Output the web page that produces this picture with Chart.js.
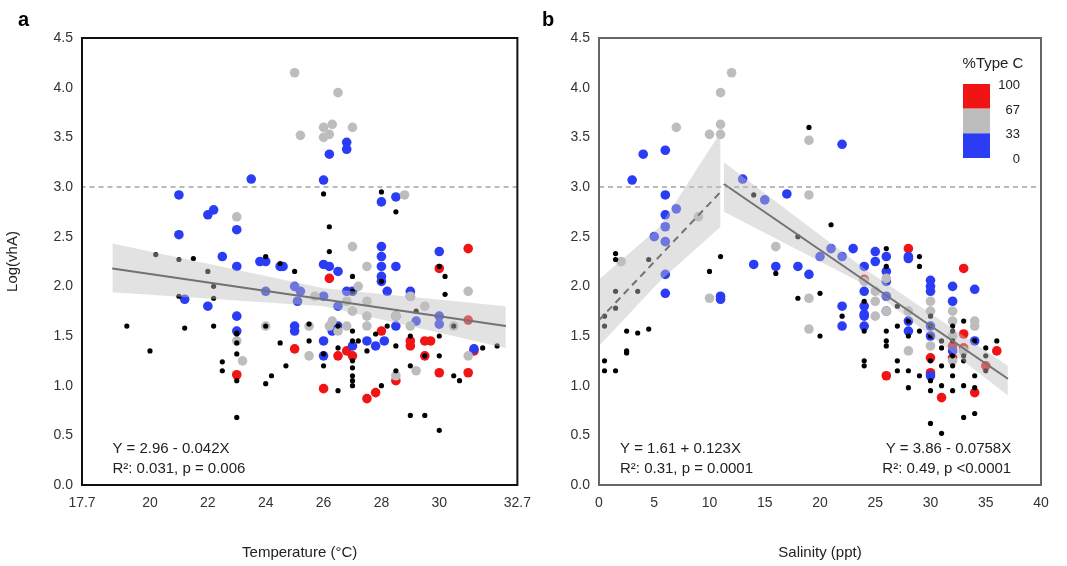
<!DOCTYPE html>
<html>
<head>
<meta charset="utf-8">
<script src="https://cdn.jsdelivr.net/npm/chart.js@4/dist/chart.umd.min.js"></script>
<style>
  body { margin: 0; background: #fff; font-family: "Liberation Sans", Arial, sans-serif; }
  #wrap { position: relative; width: 1067px; height: 566px; }
  canvas { position: absolute; top: 0; }
  .tag { position: absolute; top: 8px; font: bold 20px "Liberation Sans", Arial, sans-serif; }
</style>
</head>
<body>
<div id="wrap">
  <canvas id="chartA" style="left:0" width="535" height="566"></canvas>
  <canvas id="chartB" style="left:535px" width="532" height="566"></canvas>
  <div class="tag" style="left:18px">a</div>
  <div class="tag" style="left:542px">b</div>
</div>
<script>
// Panel a: Temperature vs Log(vhA)
const tempBlue = [[21,2.92],[21,2.52],[21.2,1.87],[22,2.72],[22.2,2.77],[22.5,2.3],[22,1.8],[23,2.57],[23,2.2],[23,1.55],[23,1.7],[23.5,3.08],[23.8,2.25],[24,2.25],[24,1.95],[24.5,2.2],[24.6,2.2],[25,2.0],[25,1.6],[25.1,1.85],[25.2,1.95],[26,2.22],[26,1.9],[26,3.07],[26.2,3.33],[26.8,3.45],[26.8,3.38],[26.5,2.15],[26.2,2.2],[26.5,1.8],[26.8,1.95],[27,1.95],[27.5,1.45],[27.8,1.4],[28,2.4],[28,2.3],[28,2.2],[28,2.1],[28,2.05],[28,2.85],[28.5,2.9],[28.5,2.2],[28.2,1.95],[28.5,1.7],[28.5,1.6],[29,1.95],[29,1.9],[29.2,1.65],[30,2.35],[30,1.7],[30,1.62],[31.2,1.37],[25,1.55],[26,1.45],[26,1.3],[26.3,1.55],[26.5,1.6],[27,1.4],[28.1,1.45]];
const tempGrey = [[25,4.15],[25.2,3.52],[26,3.6],[26.3,3.63],[26.2,3.53],[26,3.5],[26.5,3.95],[27,3.6],[23,2.7],[26.8,1.85],[27,2.4],[27.5,2.2],[27.2,2.0],[27.5,1.85],[27.5,1.7],[25.5,1.6],[25.7,1.9],[26.3,1.65],[26.5,1.55],[26.8,1.6],[27.5,1.6],[28.5,1.7],[29,1.6],[30.5,1.6],[31,1.95],[31,1.3],[23,1.45],[23.2,1.25],[24,1.6],[25.5,1.3],[26.2,1.6],[28.5,1.1],[29.2,1.15],[29.5,1.8],[27,1.75],[29,1.9],[28.8,2.92]];
const tempRed = [[23,1.11],[25,1.37],[26,0.97],[26.2,2.08],[26.5,1.3],[26.8,1.35],[27,1.3],[27.5,0.87],[27.8,0.93],[28,1.55],[29,1.45],[29,1.4],[29.5,1.3],[29.7,1.45],[30,1.13],[30,2.18],[31,2.38],[31,1.66],[31,1.13],[31.2,1.35],[28.5,1.05],[29.5,1.45]];
const tempBlack = [[19.2,1.6],[20,1.35],[20.2,2.32],[21,2.27],[21,1.9],[21.2,1.58],[21.5,2.28],[22,2.15],[22.2,2.0],[22.2,1.88],[22.5,1.15],[22.5,1.24],[23,1.43],[23,1.05],[23,0.68],[23,1.52],[23,1.53],[23,1.32],[24,1.02],[24,2.3],[24.5,1.43],[24,1.6],[24.5,2.23],[24.7,1.2],[25,2.15],[25.5,1.45],[25.5,1.62],[26,2.93],[26,1.32],[26,1.2],[26.2,2.6],[26.2,2.35],[26.5,1.38],[26.5,0.95],[26.5,1.6],[27,2.1],[27,1.95],[27,1.55],[27,1.45],[27,1.25],[27,1.18],[27,1.1],[27,1.05],[27,1.0],[27.2,1.45],[27.5,1.35],[27.8,1.52],[28,2.95],[28,1.0],[28,2.05],[28.5,2.75],[28.5,1.15],[28.5,1.4],[29,0.7],[29,1.5],[29,1.2],[29.5,1.3],[29.5,0.7],[30,2.2],[30,1.5],[30,1.3],[30,0.55],[30.2,2.1],[30.2,1.92],[30.5,1.6],[30.5,1.1],[30.7,1.05],[28.2,1.6],[29.2,1.75],[24.2,1.1],[31.5,1.38],[32,1.4],[22.2,1.6]];
const tempFit = [[18.7,2.18],[32.3,1.60]];
const tempBandHi = [[18.7,2.43],[26,1.98],[32.3,1.80]];
const tempBandLo = [[18.7,1.94],[26,1.80],[32.3,1.38]];

// Panel b: Salinity vs Log(vhA)
const salBlue = [[3,3.07],[4,3.33],[5,2.5],[6,3.37],[6,2.92],[6,2.72],[6,2.6],[6,2.45],[6,2.12],[6,1.93],[7,2.78],[11,1.9],[11,1.87],[13,3.08],[15,2.87],[17,2.93],[22,3.43],[18,2.2],[19,2.12],[14,2.22],[16,2.2],[20,2.3],[21,2.38],[22,2.3],[23,2.38],[24,2.2],[25,2.35],[25,2.25],[26,2.3],[26,2.15],[26,2.05],[28,2.3],[28,2.28],[30,2.06],[30,2.0],[30,1.95],[32,2.0],[32,1.85],[34,1.97],[24,1.95],[24,1.8],[24,1.72],[22,1.8],[24,1.7],[26,1.9],[26,1.75],[28,1.65],[28,1.55],[30,1.6],[30,1.5],[32,1.35],[30,1.1],[34,1.45],[22,1.6],[24,1.6]];
const salGrey = [[10,3.53],[11,3.53],[11,3.63],[11,3.95],[12,4.15],[7,3.6],[19,3.47],[19,2.92],[9,2.7],[16,2.4],[10,1.88],[19,1.88],[19,1.57],[24,2.05],[26,2.08],[25,1.95],[25,1.85],[26,1.75],[28,1.75],[30,1.85],[30,1.75],[32,1.75],[32,1.65],[34,1.65],[34,1.6],[28,1.35],[30,1.4],[32,1.5],[33,1.35],[32,1.25],[25,1.7],[2,2.25]];
const salRed = [[24,2.07],[28,2.38],[33,2.18],[26,1.1],[30,1.13],[30,1.28],[32,1.28],[32,1.4],[33,1.52],[33,1.38],[34,0.93],[31,0.88],[36,1.35],[35,1.2]];
const salBlack = [[0.5,1.7],[0.5,1.6],[0.5,1.25],[0.5,1.15],[1.5,2.33],[1.5,1.95],[1.5,2.27],[1.5,1.15],[1.5,1.78],[2.5,1.35],[2.5,1.33],[2.5,1.55],[3.5,1.53],[3.5,1.95],[4.5,1.57],[4.5,2.27],[10,2.15],[11,2.3],[14,2.92],[16,2.13],[18,2.5],[19,3.6],[18,1.88],[20,1.93],[20,1.5],[21,2.62],[22,1.7],[24,1.2],[24,1.25],[24,1.55],[24,1.85],[26,1.45],[26,1.4],[26,1.55],[26,2.2],[26,2.38],[27,1.15],[27,1.8],[27,1.25],[27,1.6],[28,1.15],[28,0.98],[28,1.5],[28,1.65],[29,2.3],[29,2.2],[29,1.55],[29,1.1],[30,1.05],[30,1.7],[30,1.5],[30,1.6],[30,0.95],[30,0.62],[30,1.25],[31,1.45],[31,1.2],[31,1.38],[31,1.0],[31,0.52],[32,1.55],[32,1.6],[32,1.45],[32,1.3],[32,1.2],[32,1.1],[32,0.95],[33,1.3],[33,1.25],[33,1.0],[33,0.68],[33,1.65],[34,1.45],[34,1.1],[34,0.98],[35,1.3],[35,1.38],[35,1.15],[36,1.45],[34,0.72]];
const salFitLow = [[0,1.66],[11,2.95]];
const salBandLowHi = [[0,2.07],[5.5,2.6],[11,3.55]];
const salBandLowLo = [[0,1.4],[5.5,2.05],[11,2.6]];
const salFitHigh = [[11.3,3.03],[37,1.07]];
const salBandHighHi = [[11.3,3.25],[24,2.18],[37,1.2]];
const salBandHighLo = [[11.3,2.75],[24,2.02],[37,0.9]];

const legendLabels = ["100", "67", "33", "0"];
const legendColors = ["#f01414", "#bdbdbd", "#2b3cf5"];

const BLUE = "#2b3cf5", GREY = "#bdbdbd", RED = "#f01414";
const FONT = "'Liberation Sans', Arial, sans-serif";

function pts(arr) { return arr.map(p => ({ x: p[0], y: p[1] })); }

function dots(data, color, r) {
    return { type: "scatter", data: pts(data), backgroundColor: color, borderWidth: 0, pointRadius: r, pointHoverRadius: r };
}
function line(data, color, dash, width) {
    return { type: "line", data: pts(data), borderColor: color, borderWidth: width, borderDash: dash, pointRadius: 0, fill: false, tension: 0 };
}
function bandPair(hi, lo) {
    return [
        { type: "line", data: pts(hi), borderWidth: 0, pointRadius: 0, fill: false, tension: 0 },
        { type: "line", data: pts(lo), borderWidth: 0, pointRadius: 0, backgroundColor: "rgba(190,190,190,0.45)", fill: "-1", tension: 0 },
    ];
}

function frame(color) {
    return {
        id: "frame",
        afterDraw(chart) {
            const { ctx, chartArea: a } = chart;
            ctx.save();
            ctx.strokeStyle = color;
            ctx.lineWidth = 2;
            ctx.strokeRect(a.left, a.top, a.right - a.left, a.bottom - a.top);
            ctx.restore();
        },
    };
}

function notes(items) {
    return {
        id: "notes",
        afterDraw(chart) {
            const ctx = chart.ctx;
            ctx.save();
            ctx.fillStyle = "#222";
            ctx.font = "15px " + FONT;
            items.forEach(t => {
                ctx.textAlign = t.align || "left";
                ctx.fillText(t.text, chart.scales.x.getPixelForValue(t.x), chart.scales.y.getPixelForValue(t.y));
            });
            ctx.restore();
        },
    };
}

const colorBar = {
    id: "colorBar",
    afterDraw(chart) {
        const ctx = chart.ctx;
        const x0 = 963 - 535, y0 = 84, w = 27, h = 74;
        ctx.save();
        legendColors.forEach((c, i) => {
            ctx.fillStyle = c;
            ctx.fillRect(x0, y0 + i * h / 3, w, h / 3);
        });
        ctx.fillStyle = "#222";
        ctx.font = "15px " + FONT;
        ctx.textAlign = "center";
        ctx.fillText("%Type C", x0 + 30, y0 - 16);
        ctx.font = "13px " + FONT;
        ctx.textAlign = "right";
        legendLabels.forEach((l, i) => ctx.fillText(l, x0 + w + 30, y0 + i * h / 3 + 5));
        ctx.restore();
    },
};

function axes(xmin, xmax, step, xTitle, yTitle, yWidth) {
    const tick = { color: "#333", font: { size: 14, family: FONT } };
    return {
        x: {
            type: "linear", min: xmin, max: xmax,
            ticks: { ...tick, stepSize: step, padding: 4 },
            grid: { display: false, drawTicks: true, tickLength: 6, tickColor: "#222" },
            border: { display: false },
            title: { display: true, text: xTitle, color: "#222", font: { size: 15, family: FONT } },
            afterFit: s => { s.height = 81; },
        },
        y: {
            type: "linear", min: 0, max: 4.5,
            ticks: { ...tick, stepSize: 0.5, callback: v => v.toFixed(1) },
            grid: { display: false, drawTicks: true, tickLength: 6, tickColor: "#222" },
            border: { display: false },
            title: { display: !!yTitle, text: yTitle, color: "#222", font: { size: 15, family: FONT } },
            afterFit: s => { s.width = yWidth; },
        },
    };
}

const common = {
    responsive: false,
    animation: false,
    plugins: { legend: { display: false }, tooltip: { enabled: false } },
};

new Chart(document.getElementById("chartA"), {
    data: {
        datasets: [
            ...bandPair(tempBandHi, tempBandLo),
            line([[17.6, 3], [32.7, 3]], "#777", [5, 4], 1.2),
            line(tempFit, "#333", [], 2),
            dots(tempBlack, "#000", 2.6),
            dots(tempGrey, GREY, 4.8),
            dots(tempBlue, BLUE, 4.8),
            dots(tempRed, RED, 4.8),
        ],
    },
    options: {
        ...common,
        layout: { padding: { top: 38, right: 5, left: 0, bottom: 0 } },
        scales: axes(17.65, 32.7, 2, "Temperature (°C)", "Log(vhA)", 82),
    },
    plugins: [frame("#111"), notes([
        { x: 18.7, y: 0.32, text: "Y = 2.96 - 0.042X" },
        { x: 18.7, y: 0.12, text: "R²: 0.031, p = 0.006" },
    ])],
});

new Chart(document.getElementById("chartB"), {
    data: {
        datasets: [
            ...bandPair(salBandLowHi, salBandLowLo),
            ...bandPair(salBandHighHi, salBandHighLo),
            line([[0, 3], [40, 3]], "#777", [5, 4], 1.2),
            line(salFitLow, "#333", [7, 5], 2),
            line(salFitHigh, "#333", [], 2),
            dots(salBlack, "#000", 2.6),
            dots(salGrey, GREY, 4.8),
            dots(salBlue, BLUE, 4.8),
            dots(salRed, RED, 4.8),
        ],
    },
    options: {
        ...common,
        layout: { padding: { top: 38, right: 26, left: 0, bottom: 0 } },
        scales: axes(0, 40, 5, "Salinity (ppt)", "", 64),
    },
    plugins: [frame("#666"), colorBar, notes([
        { x: 1.9, y: 0.32, text: "Y = 1.61 + 0.123X" },
        { x: 1.9, y: 0.12, text: "R²: 0.31, p = 0.0001" },
        { x: 37.3, y: 0.32, text: "Y = 3.86 - 0.0758X", align: "right" },
        { x: 37.3, y: 0.12, text: "R²: 0.49, p <0.0001", align: "right" },
    ])],
});
</script>
</body>
</html>
